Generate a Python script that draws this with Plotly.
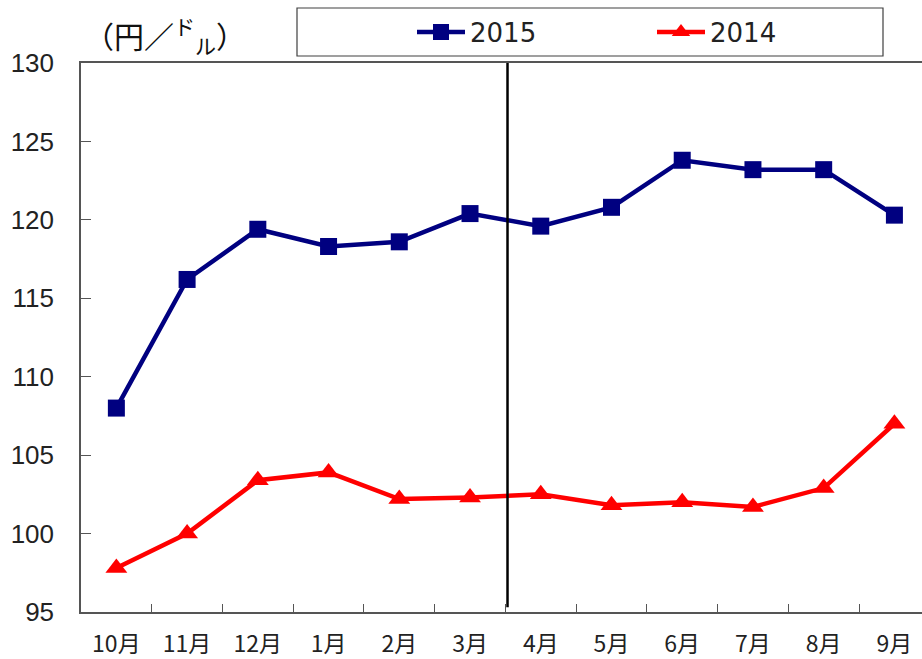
import plotly.graph_objects as go

months = ["10月", "11月", "12月", "1月", "2月", "3月", "4月", "5月", "6月", "7月", "8月", "9月"]
y2015 = [108.0, 116.2, 119.4, 118.3, 118.6, 120.4, 119.6, 120.8, 123.8, 123.2, 123.2, 120.3]
y2014 = [97.8, 100.0, 103.4, 103.9, 102.2, 102.3, 102.5, 101.8, 102.0, 101.7, 102.9, 107.0]
yticks = [95, 100, 105, 110, 115, 120, 125, 130]

W, H = 922, 659
L, R, T, B = 81, 0, 63, 47
PW, PH = W - L - R, H - T - B

fig = go.Figure()
fig.add_trace(go.Scatter(x=months, y=y2015, name="2015", mode="lines+markers",
                         line=dict(color="#000080", width=4.5),
                         marker=dict(symbol="square", size=17, color="#000080")))
fig.add_trace(go.Scatter(x=months, y=y2014, name="2014", mode="lines+markers",
                         line=dict(color="#FF0000", width=4.5),
                         marker=dict(symbol="triangle-up", size=19, color="#FF0000")))

def px_x(v):
    return (v - L) / PW

def px_y(v):
    return (H - B - v) / PH

fig.add_shape(type="rect", xref="paper", yref="paper",
              x0=px_x(297), x1=px_x(883), y0=px_y(56), y1=px_y(8),
              line=dict(color="#404040", width=1.2), fillcolor="white", layer="below")
# divider line between 3月 and 4月
fig.add_shape(type="line", xref="x", yref="y", x0=5.53, x1=5.53, y0=95.3, y1=130,
              line=dict(color="black", width=2.5))

fig.add_annotation(xref="paper", yref="paper", x=px_x(82), y=px_y(36),
                   xanchor="left", yanchor="middle", showarrow=False,
                   text="（円／<sup>ド</sup><sub>ル</sub>）",
                   font=dict(family="Noto Sans CJK JP", size=30, color="#111111"))

fig.update_layout(
    width=W, height=H,
    margin=dict(l=L, r=R, t=T, b=B),
    paper_bgcolor="white", plot_bgcolor="white",
    font=dict(family="Noto Sans CJK JP", color="#222222"),
    showlegend=True,
    legend=dict(orientation="h", x=px_x(412), y=px_y(32), xanchor="left", yanchor="middle",
                bgcolor="rgba(0,0,0,0)", borderwidth=0,
                font=dict(family="DejaVu Sans", size=26, color="#222222"),
                entrywidth=177, entrywidthmode="pixels", itemwidth=48),
    xaxis=dict(type="category", range=[-0.5, 11.39], showline=True, linecolor="#555555",
               linewidth=1.5, mirror=True, ticks="inside", ticklen=8, tickcolor="#555555",
               tickson="boundaries", showgrid=False, zeroline=False,
               tickfont=dict(size=23, family="Noto Sans CJK JP", color="#222222"),
               ticklabelstandoff=11),
    yaxis=dict(range=[95, 130], tickvals=yticks, showline=True, linecolor="#555555",
               linewidth=1.5, ticks="inside", ticklen=10, tickcolor="#555555",
               showgrid=False, zeroline=False,
               tickfont=dict(size=26, family="Liberation Sans", color="#222222"),
               ticklabelstandoff=20),
)

fig.write_html("out.html", config={"displayModeBar": False},
               post_script="document.body.style.margin='0';")
